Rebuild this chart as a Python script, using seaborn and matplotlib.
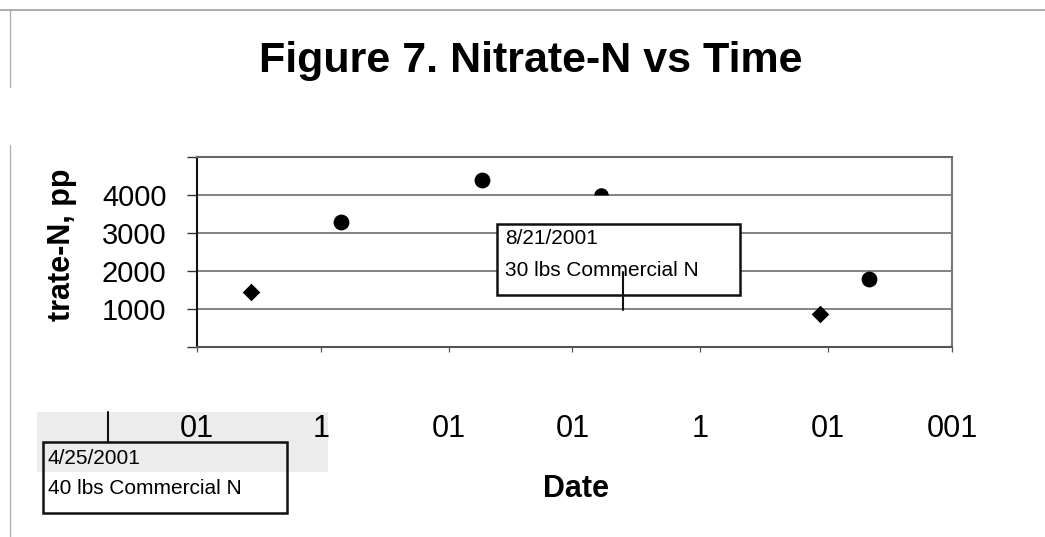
import numpy as np
import pandas as pd
import matplotlib
matplotlib.use("Agg")
import matplotlib.pyplot as plt
from matplotlib.markers import MarkerStyle
from matplotlib.patches import Rectangle
from matplotlib.lines import Line2D
import seaborn as sns

# ---------------- data ----------------
title = "Figure 7. Nitrate-N vs Time"
y_label = "trate-N, pp"
x_label = "Date"

diamond_dates = ["2001-04-14", "2001-08-30"]
diamond_nitrate = [1450, 870]
circle_dates = ["2001-05-06", "2001-06-09", "2001-09-11"]
circle_nitrate = [3300, 4400, 1780]
partial_dates = ["2001-07-08"]
partial_nitrate = [4000]

x_tick_dates = ["2001-04-01", "2001-05-01", "2001-06-01", "2001-07-01",
                "2001-08-01", "2001-09-01", "2001-10-01"]
x_tick_labels = ["01", "1", "01", "01", "1", "01", "001"]
y_ticks = [0, 1000, 2000, 3000, 4000, 5000]
y_tick_labels = ["", "1000", "2000", "3000", "4000", ""]

callout_1 = ["8/21/2001", "30 lbs Commercial N"]
callout_2 = ["4/25/2001", "40 lbs Commercial N"]

# ---------------- figure ----------------
W, H = 1045, 537
sns.set_theme(style="white")
plt.rcParams["font.family"] = ["Liberation Sans", "DejaVu Sans"]
plt.rcParams["text.color"] = "black"
plt.rcParams["xtick.color"] = "black"
plt.rcParams["ytick.color"] = "black"


def fx(px):
    return px / W


def fy(py):
    return 1 - py / H


fig = plt.figure(figsize=(W / 100, H / 100), dpi=100)
fig.patch.set_facecolor("white")
ax = fig.add_axes([fx(197), fy(347), fx(952) - fx(197), fy(157) - fy(347)])
ax.set_facecolor("white")

d_df = pd.DataFrame({"Date": pd.to_datetime(diamond_dates), "Nitrate": diamond_nitrate})
c_df = pd.DataFrame({"Date": pd.to_datetime(circle_dates), "Nitrate": circle_nitrate})
p_df = pd.DataFrame({"Date": pd.to_datetime(partial_dates), "Nitrate": partial_nitrate})

sns.scatterplot(data=d_df, x="Date", y="Nitrate", marker="D", s=80,
                color="black", linewidth=0, ax=ax, zorder=3)
sns.scatterplot(data=c_df, x="Date", y="Nitrate", marker="o", s=130,
                color="black", linewidth=0, ax=ax, zorder=3)
sns.scatterplot(data=p_df, x="Date", y="Nitrate",
                marker=MarkerStyle("o", fillstyle="top"), s=110,
                color="black", linewidth=0, ax=ax, zorder=3)

ax.set_xlim(pd.Timestamp(x_tick_dates[0]), pd.Timestamp(x_tick_dates[-1]))
ax.set_ylim(y_ticks[0], y_ticks[-1])
ax.set_xticks(pd.to_datetime(x_tick_dates))
ax.set_xticklabels(x_tick_labels)
ax.set_yticks(y_ticks)
ax.set_yticklabels(y_tick_labels)
ax.set_xlabel("")
ax.set_ylabel("")

ax.yaxis.grid(True, color="#6e6e6e", linewidth=1.2)
ax.xaxis.grid(False)
ax.set_axisbelow(True)

ax.tick_params(axis="y", direction="out", length=7, width=1.0, color="#333333",
               pad=15, labelsize=21, left=True)
ax.tick_params(axis="x", direction="out", length=3.5, width=0.9, color="#555555",
               pad=45, labelsize=22, bottom=True)

for side, col in [("left", "#111111"), ("bottom", "#555555"),
                  ("top", "#666666"), ("right", "#777777")]:
    ax.spines[side].set_visible(True)
    ax.spines[side].set_color(col)
    ax.spines[side].set_linewidth(1.5)

# ---------------- texts ----------------
fig.text(fx(531), fy(72), title, ha="center", va="baseline",
         fontsize=31, fontweight="bold")
fig.text(fx(62), fy(245), y_label, rotation=90, ha="center", va="center",
         fontsize=22, fontweight="bold")
fig.text(fx(576), fy(497), x_label, ha="center", va="baseline",
         fontsize=22, fontweight="bold")

# ---------------- callout 1 ----------------
fig.add_artist(Rectangle((fx(497), fy(295)), fx(740) - fx(497), (295 - 224) / H,
                         transform=fig.transFigure, facecolor="white",
                         edgecolor="#111111", linewidth=1.8, zorder=2))
fig.add_artist(Line2D([fx(623), fx(623)], [fy(272), fy(310)],
                      transform=fig.transFigure, color="#111111",
                      linewidth=1.5, zorder=4))
fig.text(fx(505), fy(239), callout_1[0], ha="left", va="center",
         fontsize=15, zorder=5)
fig.text(fx(505), fy(270), callout_1[1], ha="left", va="center",
         fontsize=15, zorder=5)

# ---------------- callout 2 ----------------
fig.add_artist(Rectangle((fx(37), fy(472)), fx(328) - fx(37), (472 - 412) / H,
                         transform=fig.transFigure, facecolor="#ececec",
                         edgecolor="none", zorder=-1))
fig.add_artist(Rectangle((fx(43), fy(513)), fx(287) - fx(43), (513 - 472) / H,
                         transform=fig.transFigure, facecolor="white",
                         edgecolor="none", zorder=1.5))
fig.add_artist(Rectangle((fx(43), fy(513)), fx(287) - fx(43), (513 - 442) / H,
                         transform=fig.transFigure, fill=False,
                         edgecolor="#111111", linewidth=1.8, zorder=2.5))
fig.add_artist(Line2D([fx(108), fx(108)], [fy(412), fy(442)],
                      transform=fig.transFigure, color="#111111",
                      linewidth=1.5, zorder=4))
fig.text(fx(48), fy(458), callout_2[0], ha="left", va="center",
         fontsize=15, zorder=5)
fig.text(fx(48), fy(488), callout_2[1], ha="left", va="center",
         fontsize=15, zorder=5)

# ---------------- faint scan frame ----------------
fig.add_artist(Line2D([0, 1], [fy(10), fy(10)], transform=fig.transFigure,
                      color="#a0a0a0", linewidth=1.2, zorder=1))
fig.add_artist(Line2D([fx(10), fx(10)], [fy(10), fy(87)], transform=fig.transFigure,
                      color="#b0b0b0", linewidth=1.0, zorder=1))
fig.add_artist(Line2D([fx(10), fx(10)], [fy(145), fy(537)], transform=fig.transFigure,
                      color="#b0b0b0", linewidth=1.0, zorder=1))

fig.savefig("out.png", dpi=100, facecolor="white")
